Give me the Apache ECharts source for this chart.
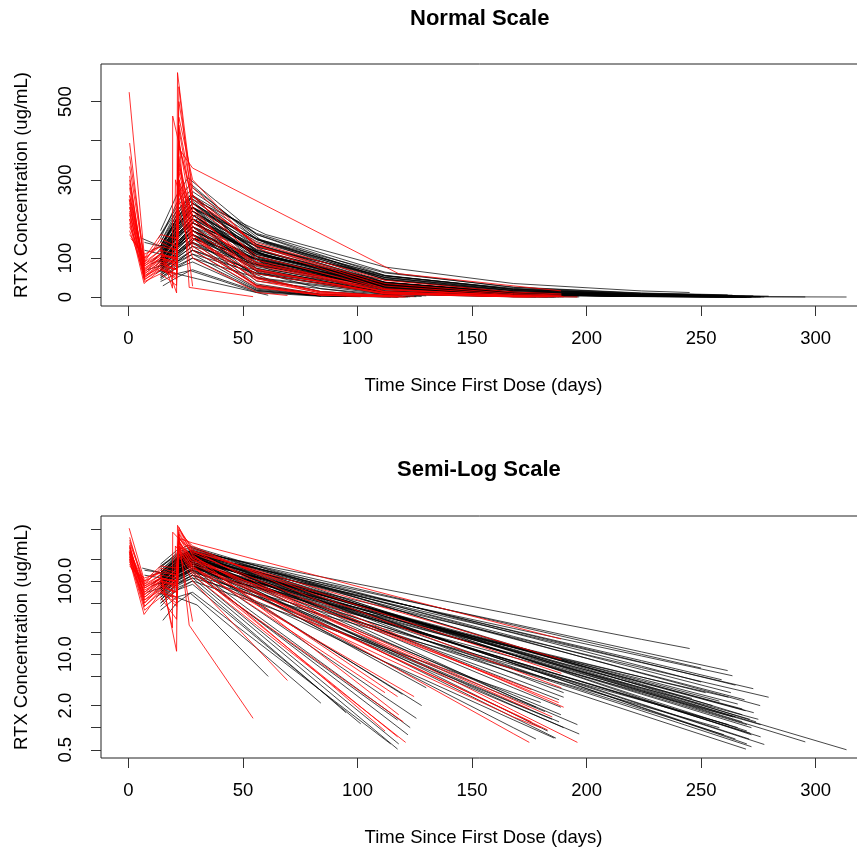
<!DOCTYPE html>
<html>
<head>
<meta charset="utf-8">
<script src="https://cdn.jsdelivr.net/npm/echarts@6/dist/echarts.min.js"></script>
<style>
  html, body { margin: 0; padding: 0; background: #ffffff; }
  #chart { width: 857px; height: 851px; }
</style>
</head>
<body>
<div id="chart"></div>
<script>
// RTX concentration-time profiles, one [day, ug/mL] list per subject
const blackSubjects = [
  [[14,130],[21,200],[28,250],[60,160],[112,77],[168,35],[224,16],[245,12]],
  [[12,110],[20,170],[27,230],[56,149],[112,62],[168,26],[224,10.8],[261.6,6.0]],
  [[10,90],[21,150],[28,200],[58,125],[112,54],[168,22.6],[224,9.5],[263.7,5.1]],
  [[14,100],[22,160],[29,210],[56,131],[112,51],[168,19.8],[224,7.7],[272.8,3.4]],
  [[15,80],[21,140],[28,180],[63,100],[112,44],[168,17],[224,6.6],[279.5,2.6]],
  [[13,150],[21,220],[27,260],[56,150],[112,50],[168,16.6],[224,5.5],[275.8,2.0]],
  [[14,90],[21,130],[28,190],[60,105],[112,37],[168,12.3],[224,4.1],[269.4,1.7]],
  [[7,120],[14,110],[21,180],[28,220],[56,122],[112,37],[168,11.5],[224,3.5],[271.3,1.3]],
  [[12,70],[20,120],[28,170],[59,88],[112,27],[168,8.0],[224,2.4],[271.5,0.84]],
  [[14,100],[21,160],[30,200],[56,104],[112,28],[168,7.6],[224,2.06],[277.6,0.59]],
  [[14,75],[22,120],[28,150],[62,70],[112,20.8],[168,5.6],[224,1.49],[269.6,0.51]],
  [[16,120],[21,190],[28,240],[56,129],[112,37],[168,10.8],[224,3.1],[295.5,0.64]],
  [[14,110],[21,170],[28,220],[60,115],[112,37],[168,11.1],[224,3.4],[280,1.02],[313.5,0.5]],
  [[13,90],[21,130],[27,160],[56,88],[112,26.7],[168,8.1],[224,2.45],[266,1.0]],
  [[14,160],[21,230],[28,280],[58,145],[112,45],[168,13.3],[224,3.9],[268,1.5]],
  [[11,95],[21,150],[28,190],[56,111],[112,38],[168,13],[224,4.4],[258,2.3]],
  [[14,60],[21,100],[29,150],[61,88],[112,34.6],[168,13],[224,4.9],[252,3.0]],
  [[14,140],[21,210],[28,270],[56,160],[112,56],[168,19.5],[224,6.9],[250,4.2]],
  [[15,110],[22,180],[28,230],[57,113],[112,29.5],[168,7.5],[224,1.9],[265,0.7]],
  [[14,60],[21,90],[28,120],[56,68],[112,22],[168,7.2],[224,2.36],[262,1.1]],
  [[14,170],[21,260],[26,305],[56,160],[112,45.5],[168,12.9],[224,3.7],[274,1.2]],
  [[12,80],[21,140],[28,170],[60,95],[112,33],[168,11.3],[224,3.8],[246,2.5]],
  [[7,140],[14,130],[21,200],[28,260],[56,135],[112,36],[168,9.8],[224,2.6],[270,0.9]],
  [[14,85],[21,140],[28,180],[56,97],[112,28],[168,8.1],[224,2.4],[276,0.75]],
  [[14,70],[20,110],[27,140],[56,60],[112,10.9],[168,1.97],[196.8,0.82]],
  [[13,90],[21,130],[28,170],[58,58],[112,7.8],[168,1.0],[177.9,0.7]],
  [[14,100],[21,160],[28,200],[56,74],[112,10.2],[168,1.39],[186.6,0.72]],
  [[16,70],[22,115],[29,150],[60,62],[112,12.8],[168,2.48],[181.8,1.66]],
  [[14,120],[21,180],[28,230],[56,100],[112,18.8],[168,3.5],[188.8,1.9]],
  [[14,85],[21,140],[28,180],[56,78],[112,14.8],[168,2.8],[188.8,1.5]],
  [[12,60],[21,95],[28,120],[62,44],[112,7.9],[168,1.28],[185.9,0.72]],
  [[14,130],[21,200],[27,250],[56,116],[112,25],[168,5.5],[190,3.0]],
  [[14,110],[21,170],[28,210],[56,105],[112,26.5],[168,6.7],[184,4.5]],
  [[14,50],[21,80],[28,100],[56,50],[112,12.1],[168,3.0],[180,2.2]],
  [[14,80],[21,120],[28,160],[56,41],[112,2.6],[125.7,1.34]],
  [[15,60],[21,90],[28,110],[56,20.5],[84,3.8],[117.5,0.51]],
  [[14,70],[21,100],[28,130],[56,30.5],[84,7.2],[117.5,1.27]],
  [[14,90],[22,140],[28,180],[56,51],[84,14.3],[119.6,2.85]],
  [[14,50],[21,75],[28,90],[56,16.9],[84,3.2],[101.4,1.13]],
  [[14,40],[21,60],[28,70],[56,15],[84,3.2],[114.5,0.6]],
  [[13,68],[21,60],[30,47],[61,5.0]],
  [[15,29],[21,50],[27,68],[56,12.1],[84,2.16]],
  [[6,150],[14,130],[21,190],[28,220],[56,120],[112,35],[168,11],[224,3.3],[265,1.4]],
  [[14,100],[21,165],[28,210],[56,114],[112,33],[168,9.7],[224,2.86],[272,1.0]],
  [[14,95],[21,150],[28,190],[60,104],[112,37],[168,12.6],[224,4.2],[268,1.8]],
  [[14,120],[21,200],[28,240],[56,120],[112,30],[168,7.5],[224,1.87],[270,0.6]],
  [[8,70],[14,80],[21,110],[28,140],[56,81],[112,27],[168,9.1],[224,3.06],[264,1.4]],
  [[14,85],[21,135],[28,170],[58,92],[112,31],[168,9.9],[224,3.2],[276,1.1]],
  [[14,95],[21,150],[28,190],[56,91],[112,20.5],[168,4.7],[190,2.6]],
  [[14,80],[21,125],[28,160],[56,68],[112,12.2],[168,2.2],[188,1.2]],
  [[14,120],[21,180],[28,230],[56,85],[112,11.4],[168,1.54],[183,0.9]],
  [[14,70],[21,110],[28,140],[56,30],[84,6.5],[112,1.39],[122,0.8]],
  [[14,100],[21,160],[28,200],[56,66],[84,21.7],[112,7.1],[130,3.5]],
  [[14,140],[21,220],[28,260],[56,163],[112,64],[168,25],[224,10],[250,6.5]],
  [[14,115],[21,180],[28,230],[60,138],[112,55],[168,21],[224,8.2],[259,4.5]],
  [[14,95],[21,155],[28,200],[56,113],[112,36],[168,11.7],[224,3.75],[255,2.0]],
  [[14,80],[21,130],[28,170],[57,86],[112,23.6],[168,6.3],[224,1.7],[272,0.55]],
  [[10,120],[14,130],[21,200],[28,250],[56,134],[112,38.6],[168,11.1],[224,3.2],[268,1.2]],
  [[14,70],[21,100],[28,130],[59,78],[112,31.9],[168,12.5],[224,4.9],[262,2.6]],
  [[14,105],[21,170],[28,210],[56,109],[112,29],[168,7.9],[224,2.1],[271,0.7]],
  [[14,90],[21,145],[28,190],[61,105],[112,37],[168,12.4],[224,4.2],[273,1.6]],
  [[14,75],[21,125],[28,160],[56,84],[112,23.5],[168,6.5],[224,1.8],[260,0.8]],
  [[14,115],[21,185],[28,230],[56,135],[112,47],[168,16.3],[224,5.6],[269,2.4]],
  [[14,70],[21,115],[28,150],[63,82],[112,29.8],[168,10.2],[224,3.5],[275,1.3]],
  [[14,130],[21,195],[28,240],[56,142],[112,50],[168,17.6],[224,6.2],[263,3.0]],
  [[14,90],[21,140],[28,180],[56,73],[112,12.2],[168,2.0],[190,1.0]],
  [[14,110],[21,175],[28,220],[58,96],[112,20.5],[168,4.2],[188,2.4]],
  [[14,65],[21,105],[28,140],[56,61],[112,11.5],[168,2.16],[185,1.3]],
  [[14,130],[21,210],[28,260],[56,104],[112,16.6],[168,2.6],[178,1.9]],
  [[14,55],[21,90],[28,120],[56,23],[84,4.4],[118,0.6]],
  [[14,75],[21,115],[28,150],[56,34],[84,7.8],[112,1.8],[123,1.0]],
  [[14,45],[21,75],[28,100],[56,17.8],[84,3.2],[95,1.6]],
  [[14,85],[21,130],[28,170],[56,49],[84,14.1],[112,4.1],[128,2.0]],
  [[14,100],[21,165],[28,210],[60,82],[112,15.2],[168,2.6],[196,1.1]],
  [[14,125],[21,190],[28,240],[56,147],[112,55],[168,20.7],[224,7.8],[265,3.8]],
  [[10,85],[14,95],[21,160],[28,200],[56,109],[112,32.8],[168,9.8],[224,2.95],[270,1.1]],
  [[14,80],[21,125],[28,160],[56,96],[112,34.7],[168,12.5],[224,4.6],[266,2.1]],
  [[14,150],[21,240],[27,290],[56,147],[112,38],[168,9.8],[224,2.5],[272,0.8]],
  [[14,55],[21,85],[28,110],[56,62],[112,19.8],[168,6.3],[224,2.0],[258,1.0]]
];

const redSubjects = [
  [[0.3,250],[7,70],[14,100],[21,90],[22,380],[28,330],[118,60],[188.8,16.2]],
  [[0.3,524],[7,100],[14,130],[21,11],[21.4,574],[28,260],[56,95],[112,12.8],[168,1.72],[196,0.63]],
  [[0.5,394],[7,80],[14,110],[21,100],[22,538],[28,220],[56,72],[112,7.8],[168,0.83],[175,0.63]],
  [[0.5,334],[7,90],[14,120],[19.2,23],[19.3,463],[28,240],[56,105],[112,20],[168,3.9],[187.8,2.2]],
  [[0.5,300],[7,60],[14,90],[21,70],[22,350],[28,150],[56,47],[84,14.5],[112,4.5],[124.7,2.65]],
  [[0.5,280],[7,50],[14,80],[21,60],[22,300],[28,200],[56,52],[84,13.4],[117.5,2.65]],
  [[0.5,240],[7,45],[14,70],[21,50],[22,280],[28,140],[56,27],[84,5.3],[117.5,0.75]],
  [[0.5,220],[7,55],[14,75],[21,45],[22,250],[28,120],[56,24.7],[84,5.1],[112,1.05],[121,0.63]],
  [[0.5,200],[7,40],[14,60],[21,30],[22,220],[28,100],[56,12.1],[69.4,4.4]],
  [[0.5,190],[6.8,35],[14,70],[21,60],[22,420],[26.5,25],[54.4,1.34]],
  [[0.5,170],[7,60],[14,90],[21,80],[22,300],[28,28]],
  [[0.5,260],[7,75],[14,100],[21,90],[22,320],[28,180],[56,70],[112,10.4],[168,1.55],[183,0.93]],
  [[0.5,230],[7,85],[14,120],[21,110],[22,440],[28,260],[56,133],[112,35],[168,9.1],[189,5.5]],
  [[0.5,230],[7,65],[14,95],[21,85],[22,400],[28,190],[56,88],[112,19],[168,4.1],[176,3.3]],
  [[0.5,180],[7,85],[14,110],[21,100],[22,460],[28,300],[56,125],[112,21.7],[168,3.8],[190,1.9]],
  [[0.5,260],[7,90],[14,150],[21,130],[22,300],[28,160],[56,42],[84,11.3],[112,3.0]],
  [[0.5,210],[7,70],[14,110],[21,95],[22,360],[28,170],[56,67],[112,10.2],[168,1.57],[176,1.2]],
  [[0.5,160],[7,100],[14,160],[21,150],[22,500],[28,280],[56,131],[112,28.4],[168,6.2],[189,3.5]],
  [[1,150],[7,110],[14,130],[21,120],[22,430],[28,230],[56,48],[84,10],[118,1.5]],
  [[0.5,310],[7,55],[14,85],[20,70],[20.5,300],[28,150],[56,60],[112,9],[168,1.4],[180,1.0]],
  [[0.5,290],[7,65],[14,100],[21,85],[22,330],[28,210],[56,86],[112,14.4],[168,2.4],[185,1.4]],
  [[0.5,200],[7,45],[14,75],[21,55],[22,270],[28,130],[56,31],[84,7.5],[112,1.8],[120,1.2]],
  [[0.5,360],[7,95],[14,140],[21,120],[22,390],[28,250],[56,139],[112,43],[168,13.2],[189,8.5]],
  [[0.5,250],[7,80],[14,105],[21,100],[22,340],[28,200],[56,81],[112,13.5],[168,2.25],[175,1.8]],
  [[0.5,215],[7,50],[14,85],[21,70],[22,290],[28,160],[56,28],[84,5.1],[112,0.9]]
];

const dayTicks = [0, 50, 100, 150, 200, 250, 300];
const linearTicks = [0, 100, 200, 300, 400, 500];
const linearTickLabels = [0, 100, 300, 500];
const logTicks = [0.5, 1, 2, 5, 10, 20, 50, 100, 200, 500];
const logTickLabels = [0.5, 2, 10, 100];

const FONT = '"Liberation Sans", Arial, sans-serif';
const BLACK_LINE = 'rgba(0,0,0,0.72)';
const RED_LINE = 'rgba(255,0,0,0.8)';

const log10 = v => Math.log10(v);

function xAxisFor(gridIndex) {
  return {
    type: 'value', gridIndex: gridIndex, min: -12, max: 322,
    axisLine: { show: false, onZero: false },
    splitLine: { show: false },
    axisTick: { show: true, customValues: dayTicks, length: 10, lineStyle: { color: '#333', width: 1 } },
    axisLabel: { customValues: dayTicks, margin: 23, fontSize: 18.5, color: '#000', fontFamily: FONT },
    name: 'Time Since First Dose (days)', nameLocation: 'middle', nameGap: 70,
    nameTextStyle: { fontSize: 18.5, color: '#000', fontFamily: FONT }
  };
}

function yAxisCommon(gridIndex) {
  return {
    type: 'value', gridIndex: gridIndex,
    axisLine: { show: false, onZero: false },
    splitLine: { show: false },
    name: 'RTX Concentration (ug/mL)', nameLocation: 'middle', nameGap: 70, nameRotate: 90,
    nameTextStyle: { fontSize: 18.5, color: '#000', fontFamily: FONT }
  };
}

const yLinear = Object.assign(yAxisCommon(0), {
  min: -22.5, max: 596,
  axisTick: { show: true, customValues: linearTicks, length: 10, lineStyle: { color: '#333', width: 1 } },
  axisLabel: { customValues: linearTickLabels, rotate: 90, margin: 26, fontSize: 18.5, color: '#000', fontFamily: FONT }
});

const yLog = Object.assign(yAxisCommon(1), {
  min: log10(0.386), max: log10(769),
  axisTick: { show: true, customValues: logTicks.map(log10), length: 10, lineStyle: { color: '#333', width: 1 } },
  axisLabel: {
    customValues: logTickLabels.map(log10), rotate: 90, margin: 26, fontSize: 18.5, color: '#000', fontFamily: FONT,
    formatter: v => Math.pow(10, v).toFixed(1)
  }
});

const series = [];
function addGroup(subjects, color) {
  subjects.forEach(profile => {
    const base = { type: 'line', showSymbol: false, symbol: 'none', silent: true,
      lineStyle: { color: color, width: 1 }, animation: false };
    series.push(Object.assign({}, base, { xAxisIndex: 0, yAxisIndex: 0, data: profile }));
    series.push(Object.assign({}, base, { xAxisIndex: 1, yAxisIndex: 1,
      data: profile.map(p => [p[0], log10(p[1])]) }));
  });
}
addGroup(blackSubjects, BLACK_LINE);
addGroup(redSubjects, RED_LINE);

const gridBase = { left: 101, width: 765, height: 242, show: true, borderColor: '#222', borderWidth: 1,
  backgroundColor: 'transparent', containLabel: false, outerBoundsMode: 'none' };

const chart = echarts.init(document.getElementById('chart'), null, { renderer: 'canvas' });
chart.setOption({
  animation: false,
  backgroundColor: '#ffffff',
  grid: [
    Object.assign({}, gridBase, { top: 64 }),
    Object.assign({}, gridBase, { top: 516 })
  ],
  xAxis: [xAxisFor(0), xAxisFor(1)],
  yAxis: [yLinear, yLog],
  graphic: [
    { type: 'text', left: 481 - 71, top: 8, style: { text: 'Normal Scale', font: 'bold 22px ' + FONT, fill: '#000' } },
    { type: 'text', left: 481 - 84, top: 459, style: { text: 'Semi-Log Scale', font: 'bold 22px ' + FONT, fill: '#000' } }
  ],
  series: series
});
</script>
</body>
</html>
